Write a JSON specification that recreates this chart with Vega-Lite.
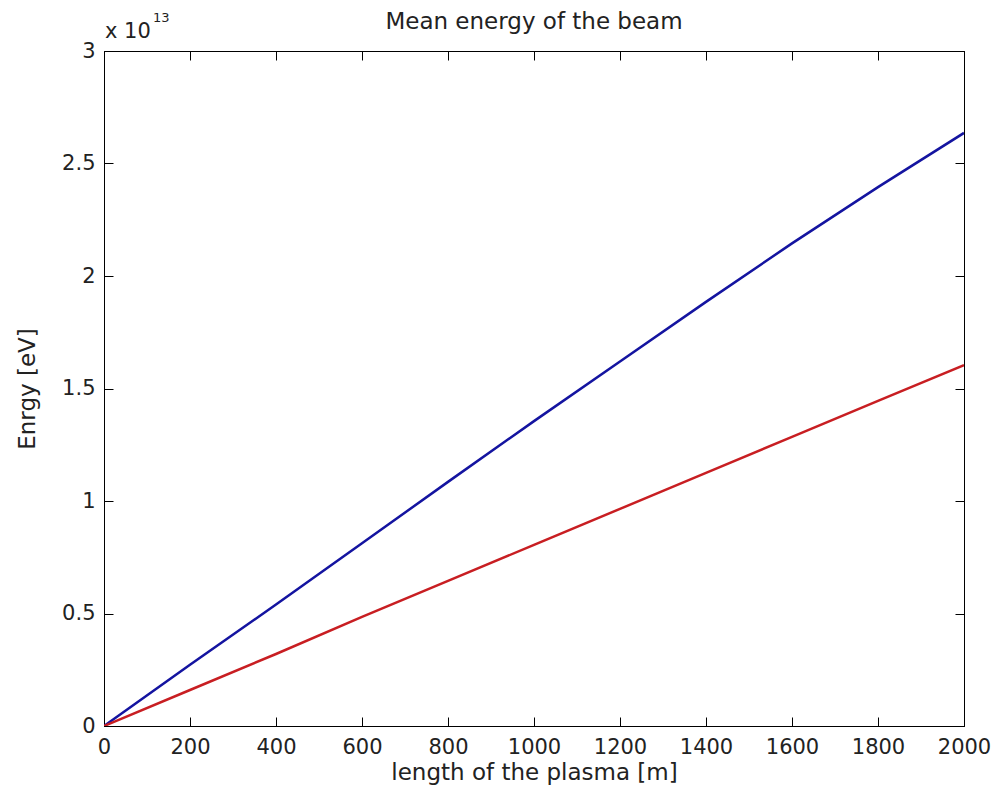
{
  "$schema": "https://vega.github.io/schema/vega-lite/v6.json",
  "autosize": "none",
  "width": 860,
  "height": 675,
  "padding": {"left": 104, "top": 51, "right": 31, "bottom": 72},
  "background": "white",
  "config": {
    "font": "DejaVu Sans",
    "view": {"stroke": "black", "strokeWidth": 1},
    "axis": {
      "grid": false,
      "domainColor": "black",
      "tickColor": "black",
      "labelColor": "#222222",
      "titleColor": "#222222",
      "labelFont": "DejaVu Sans",
      "titleFont": "DejaVu Sans",
      "labelFontSize": 21,
      "titleFontSize": 23,
      "titleFontWeight": "normal",
      "tickSize": -9,
      "tickWidth": 1
    }
  },
  "title": {
    "text": "Mean energy of the beam",
    "font": "DejaVu Sans",
    "fontSize": 23,
    "fontWeight": "normal",
    "color": "#222222",
    "offset": -22
  },
  "data": {
    "values": [
      {"length": 0, "energy": 0, "series": "A"},
      {"length": 200, "energy": 2.72e12, "series": "A"},
      {"length": 400, "energy": 5.40e12, "series": "A"},
      {"length": 600, "energy": 8.12e12, "series": "A"},
      {"length": 800, "energy": 1.085e13, "series": "A"},
      {"length": 1000, "energy": 1.355e13, "series": "A"},
      {"length": 1200, "energy": 1.62e13, "series": "A"},
      {"length": 1400, "energy": 1.885e13, "series": "A"},
      {"length": 1600, "energy": 2.145e13, "series": "A"},
      {"length": 1800, "energy": 2.395e13, "series": "A"},
      {"length": 2000, "energy": 2.636e13, "series": "A"},
      {"length": 0, "energy": 0, "series": "B"},
      {"length": 200, "energy": 1.60e12, "series": "B"},
      {"length": 400, "energy": 3.20e12, "series": "B"},
      {"length": 600, "energy": 4.85e12, "series": "B"},
      {"length": 800, "energy": 6.45e12, "series": "B"},
      {"length": 1000, "energy": 8.05e12, "series": "B"},
      {"length": 1200, "energy": 9.65e12, "series": "B"},
      {"length": 1400, "energy": 1.125e13, "series": "B"},
      {"length": 1600, "energy": 1.285e13, "series": "B"},
      {"length": 1800, "energy": 1.445e13, "series": "B"},
      {"length": 2000, "energy": 1.604e13, "series": "B"}
    ]
  },
  "layer": [
    {
      "mark": {"type": "line", "strokeWidth": 2.5, "clip": true},
      "encoding": {
        "x": {
          "field": "length", "type": "quantitative",
          "scale": {"domain": [0, 2000], "nice": false, "zero": false},
          "axis": {"orient": "bottom", "values": [0,200,400,600,800,1000,1200,1400,1600,1800,2000], "format": "d", "title": "length of the plasma [m]", "labelPadding": 19, "titlePadding": 4, "labelFlush": false}
        },
        "y": {
          "field": "energy", "type": "quantitative",
          "scale": {"domain": [0, 3e13], "nice": false, "zero": false},
          "axis": {"orient": "left", "values": [0, 5e12, 1e13, 1.5e13, 2e13, 2.5e13, 3e13], "labelExpr": "format(datum.value/1e13, '~g')", "title": "Enrgy [eV]", "labelPadding": 18, "titlePadding": 22, "labelFlush": false}
        },
        "color": {
          "field": "series", "type": "nominal",
          "scale": {"domain": ["A", "B"], "range": ["#1414a0", "#c81e22"]},
          "legend": null
        }
      }
    },
    {
      "mark": {"type": "line", "opacity": 0},
      "encoding": {
        "x": {
          "field": "length", "type": "quantitative",
          "axis": {"orient": "top", "values": [0,200,400,600,800,1000,1200,1400,1600,1800,2000], "labels": false, "title": null}
        },
        "y": {
          "field": "energy", "type": "quantitative",
          "axis": {"orient": "right", "values": [0, 5e12, 1e13, 1.5e13, 2e13, 2.5e13, 3e13], "labels": false, "title": null}
        }
      }
    },
    {
      "data": {"values": [{"t": "x 10"}]},
      "mark": {"type": "text", "align": "left", "baseline": "alphabetic", "dx": 1, "dy": -13, "fontSize": 21, "color": "#222222", "font": "DejaVu Sans"},
      "encoding": {
        "x": {"datum": 0, "axis": null},
        "y": {"datum": 3e13, "axis": null},
        "text": {"field": "t"}
      }
    },
    {
      "data": {"values": [{"t": "13"}]},
      "mark": {"type": "text", "align": "left", "baseline": "alphabetic", "dx": 49, "dy": -29, "fontSize": 13, "color": "#222222", "font": "DejaVu Sans"},
      "encoding": {
        "x": {"datum": 0, "axis": null},
        "y": {"datum": 3e13, "axis": null},
        "text": {"field": "t"}
      }
    }
  ],
  "resolve": {"axis": {"x": "independent", "y": "independent"}}
}
